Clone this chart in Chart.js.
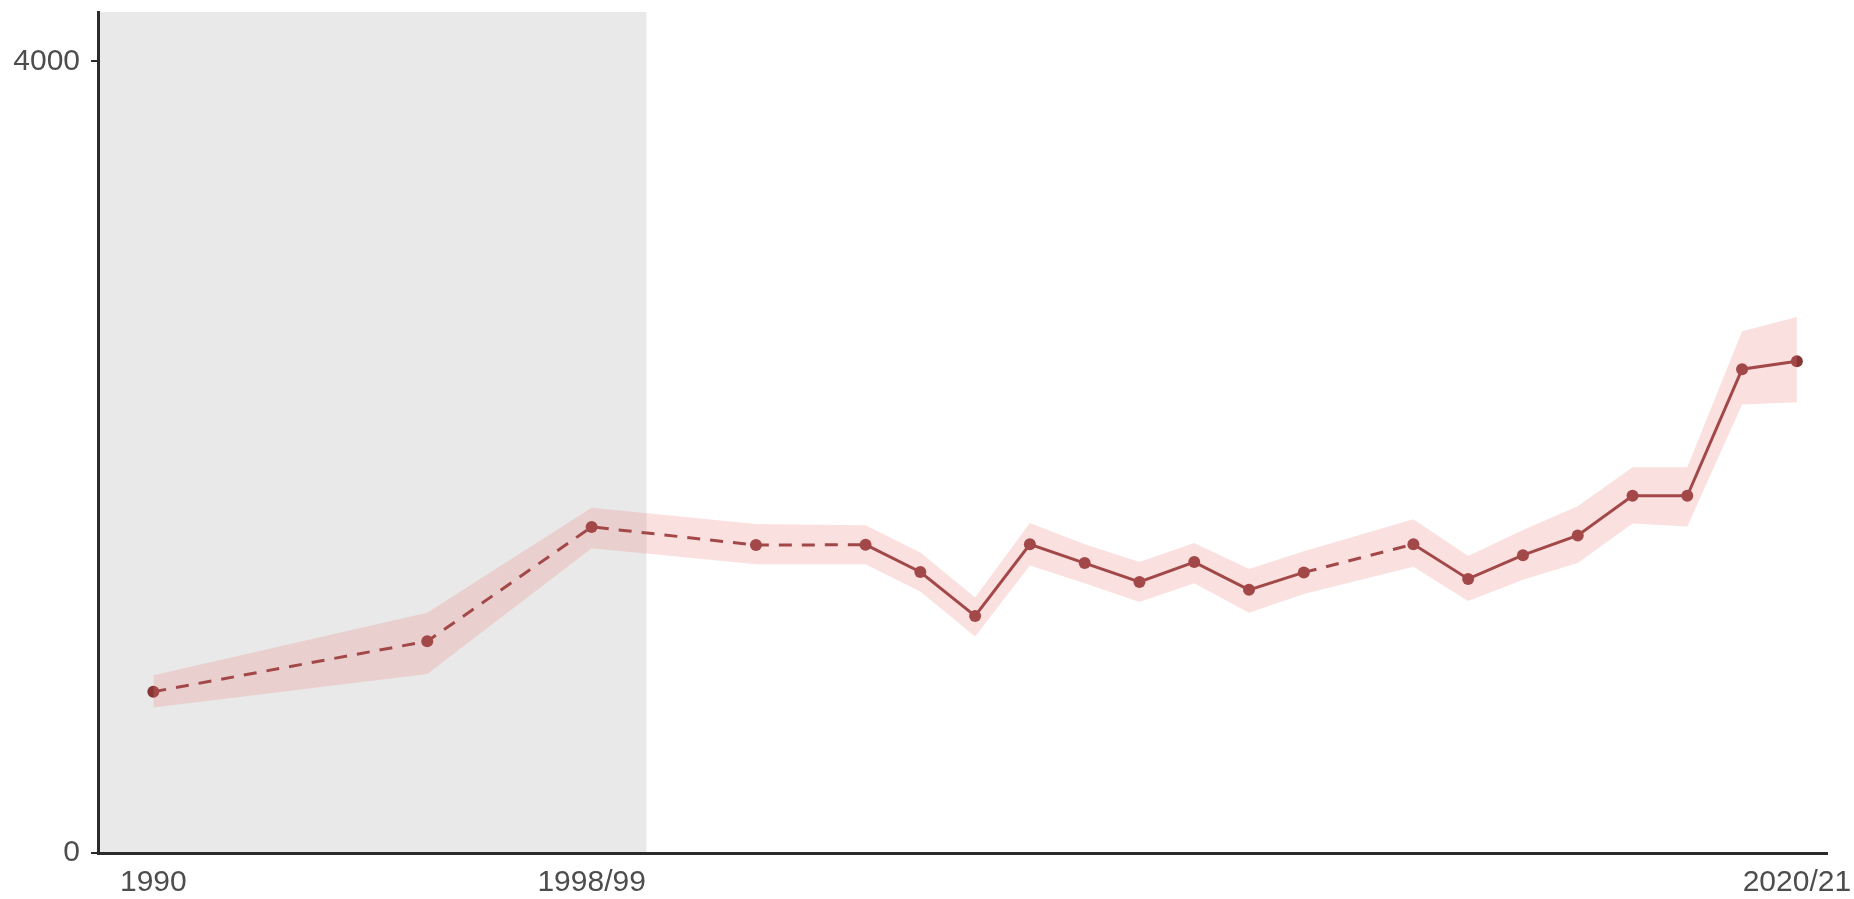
<!DOCTYPE html>
<html>
<head>
<meta charset="utf-8">
<title>Trend 1990 - 2020/21</title>
<script src="https://cdn.jsdelivr.net/npm/chart.js@4/dist/chart.umd.min.js"></script>
<style>
  html, body { margin: 0; padding: 0; background: #ffffff; }
  #wrap { width: 1854px; height: 899px; }
</style>
</head>
<body>
<div id="wrap"><canvas id="trendChart" width="1854" height="899"></canvas></div>
<script>
// survey years (2020 = 2020/21)
const years = [1990, 1995, 1998, 2001, 2003, 2004, 2005, 2006, 2007, 2008, 2009, 2010, 2011, 2013, 2014, 2015, 2016, 2017, 2018, 2019, 2020];
// central estimate
const values = [815, 1070, 1648, 1556, 1558, 1420, 1198, 1560, 1465, 1370, 1470, 1330, 1418, 1560, 1385, 1505, 1605, 1805, 1805, 2445, 2485];
// confidence band
const lower = [735, 905, 1540, 1459, 1459, 1321, 1094, 1453, 1363, 1268, 1363, 1214, 1309, 1447, 1274, 1381, 1465, 1665, 1650, 2266, 2278];
const upper = [898, 1214, 1745, 1662, 1656, 1519, 1291, 1668, 1560, 1471, 1566, 1435, 1525, 1686, 1501, 1632, 1752, 1949, 1949, 2637, 2709];

// axis ticks
const xTickValues = [1990, 1998, 2020];
const xTickLabels = ['1990', '1998/99', '2020/21'];
const yTickValues = [0, 4000];

// grey period at the start of the series
const shadeFrom = 1988.99;
const shadeTo = 1999;

const lineColor = '#8a3535';
const bandColor = 'rgba(240, 130, 130, 0.25)';
const axisColor = '#2b2b2b';
const textColor = '#4d4d4d';
const tickFont = { family: "'Liberation Sans', Arial, sans-serif", size: 30 };

function toPoints(ys) {
  return years.map((yr, i) => ({ x: yr, y: ys[i] }));
}

// paints the grey period behind everything, using the x scale
const shadePlugin = {
  id: 'shade',
  beforeDraw(chart) {
    const { ctx, chartArea, scales } = chart;
    const x0 = scales.x.getPixelForValue(shadeFrom);
    const x1 = scales.x.getPixelForValue(shadeTo);
    ctx.save();
    ctx.fillStyle = '#e9e9e9';
    ctx.fillRect(x0, chartArea.top, x1 - x0, chartArea.bottom - chartArea.top);
    ctx.restore();
  }
};

const ctx = document.getElementById('trendChart').getContext('2d');
new Chart(ctx, {
  type: 'line',
  data: {
    datasets: [
      {
        label: 'lower',
        data: toPoints(lower),
        borderWidth: 0,
        pointRadius: 0,
        fill: false
      },
      {
        label: 'upper',
        data: toPoints(upper),
        borderWidth: 0,
        pointRadius: 0,
        backgroundColor: bandColor,
        fill: '-1'
      },
      {
        label: 'estimate',
        data: toPoints(values),
        borderColor: lineColor,
        borderWidth: 3,
        pointRadius: 6,
        pointBackgroundColor: lineColor,
        pointBorderWidth: 0,
        fill: false,
        segment: {
          // gaps between survey years are drawn dashed
          borderDash: c => (c.p1.parsed.x - c.p0.parsed.x > 1 ? [13, 10] : undefined)
        }
      }
    ]
  },
  options: {
    responsive: false,
    animation: false,
    layout: { padding: { top: 12, right: 27, left: 0, bottom: 0 } },
    plugins: {
      legend: { display: false },
      tooltip: { enabled: false }
    },
    scales: {
      x: {
        type: 'linear',
        min: shadeFrom,
        max: 2020.55,
        afterBuildTicks: scale => { scale.ticks = xTickValues.map(v => ({ value: v })); },
        afterFit: scale => {
          scale.height = 46;
          scale.paddingLeft = 0;
          scale.paddingRight = 0;
        },
        border: { display: true, color: axisColor, width: 3 },
        grid: { display: true, drawOnChartArea: false, drawTicks: false },
        ticks: {
          padding: 12,
          color: textColor,
          font: tickFont,
          maxRotation: 0,
          autoSkip: false,
          callback: value => xTickLabels[xTickValues.indexOf(value)]
        }
      },
      y: {
        min: 0,
        max: 4250,
        afterBuildTicks: scale => { scale.ticks = yTickValues.map(v => ({ value: v })); },
        afterFit: scale => {
          scale.width = 98;
          scale.paddingTop = 0;
          scale.paddingBottom = 0;
        },
        border: { display: true, color: axisColor, width: 3 },
        grid: {
          display: true,
          drawOnChartArea: false,
          drawTicks: true,
          tickLength: 7,
          color: axisColor,
          lineWidth: 2
        },
        ticks: {
          padding: 11,
          color: textColor,
          font: tickFont,
          callback: value => String(value)
        }
      }
    }
  },
  plugins: [shadePlugin]
});
</script>
</body>
</html>
